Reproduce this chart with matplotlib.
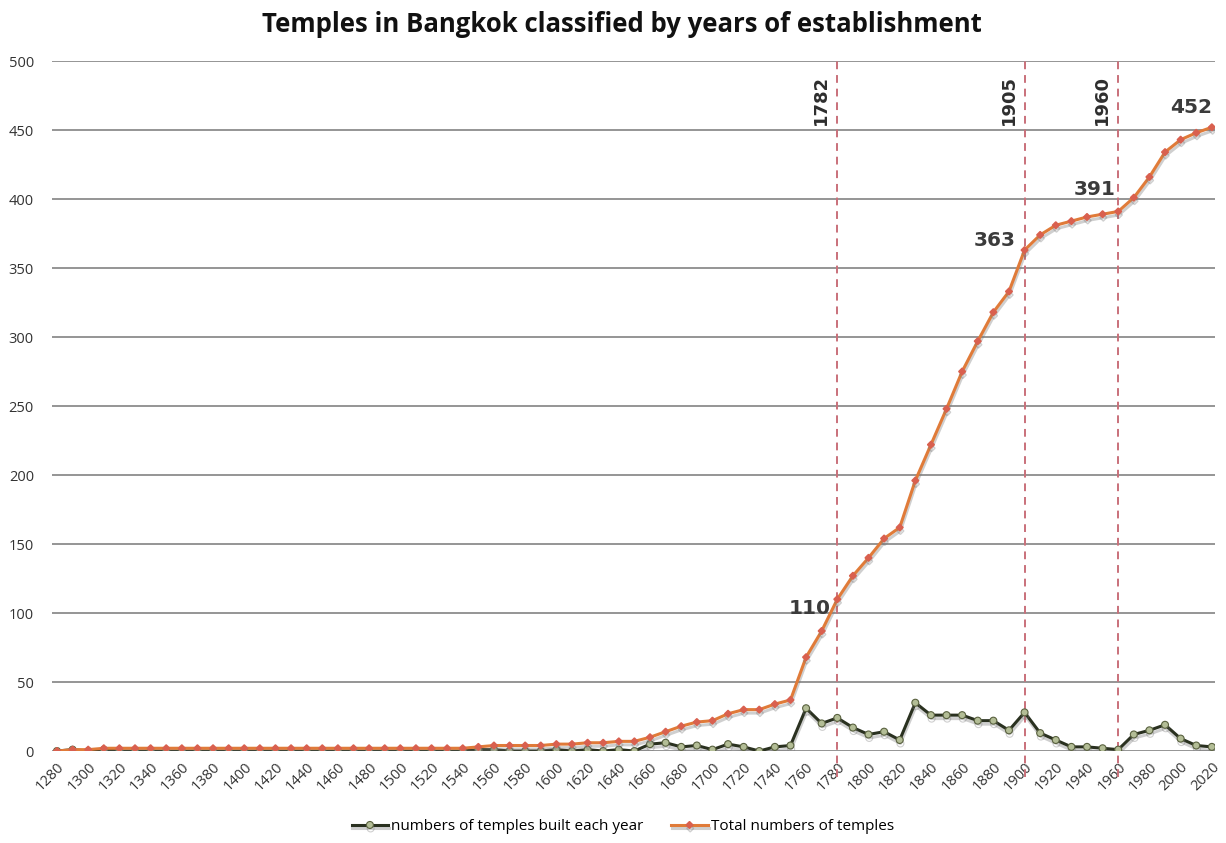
import numpy as np
import matplotlib
matplotlib.use("Agg")
import matplotlib.pyplot as plt
import matplotlib.patheffects as pe

plt.rcParams['font.family'] = ['Open Sans', 'DejaVu Sans']

# decades shown on the category axis
years = list(range(1280, 2021, 10))

# temples built in each decade
built = [0, 1, 0, 1, 0, 0, 0, 0, 0, 0,
         0, 0, 0, 0, 0, 0, 0, 0, 0, 0,
         0, 0, 0, 0, 0, 0, 0, 1, 1, 0,
         0, 0, 1, 0, 1, 0, 1, 0, 5, 6,
         3, 4, 1, 5, 3, 0, 3, 4, 31, 20,
         24, 17, 12, 14, 8, 35, 26, 26, 26, 22,
         22, 15, 28, 13, 8, 3, 3, 2, 1, 12,
         15, 19, 9, 4, 3]

# running total of temples
total = [0, 1, 1, 2, 2, 2, 2, 2, 2, 2,
         2, 2, 2, 2, 2, 2, 2, 2, 2, 2,
         2, 2, 2, 2, 2, 2, 2, 3, 4, 4,
         4, 4, 5, 5, 6, 6, 7, 7, 10, 14,
         18, 21, 22, 27, 30, 30, 34, 37, 68, 87,
         110, 127, 140, 154, 162, 196, 222, 248, 275, 297,
         318, 333, 363, 374, 381, 384, 387, 389, 391, 401,
         416, 434, 443, 448, 452]

# era markers: (category year on axis, label)
markers = [(1780, "1782"), (1900, "1905"), (1960, "1960")]
# callouts on the total line: (year, label, offset in points)
callouts = [(1780, "110", (-5, -6.5)), (1900, "363", (-6.5, 7)),
            (1960, "391", (-2, 16)), (2020, "452", (0.5, 14))]

x = np.arange(len(years))

fig = plt.figure(figsize=(12.26, 8.43), dpi=100)
ax = fig.add_axes([0.0424, 0.1091, 0.9486, 0.8185])

ax.set_xlim(-0.32, 74.2)
ax.set_ylim(0, 500)
ax.set_yticks(range(0, 501, 50))
ax.yaxis.grid(True, color='#8c8c8c', linewidth=1.3)
ax.set_axisbelow(True)
for s in ax.spines.values():
    s.set_visible(False)

shadow = [pe.SimpleLineShadow(offset=(0.5, -2.5), shadow_color='#777777', alpha=0.35), pe.Normal()]

ax.plot(x, built, color='#2a3120', linewidth=2.2, marker='o', markersize=5,
        markerfacecolor='#b3bd96', markeredgecolor='#59613f', markeredgewidth=0.8,
        label='numbers of temples built each year', path_effects=shadow, zorder=3)
ax.plot(x, total, color='#e07b39', linewidth=2.2, marker='D', markersize=3.5,
        markerfacecolor='#d9604f', markeredgecolor='#d9604f',
        label='Total numbers of temples', path_effects=shadow, zorder=4)

for yr, lab in markers:
    xi = years.index(yr)
    ax.axvline(xi, ymin=-0.038, ymax=1.0, color='#c9707a', linestyle=(0, (4, 3)),
               linewidth=1.4, clip_on=False, zorder=2)
    ax.text(xi - 0.45, 472, lab, rotation=90, ha='right', va='center',
            fontsize=13, fontweight='bold', color='#2e2e2e', family='DejaVu Sans')

for yr, lab, off in callouts:
    xi = years.index(yr)
    val = total[xi]
    ax.annotate(lab, (xi, val), xytext=off, textcoords='offset points',
                ha='right', va='center', fontsize=14.5, fontweight='bold',
                color='#3b3b3b', family='DejaVu Sans')

ax.set_xticks(x[::2])
ax.set_xticklabels([str(y) for y in years[::2]], rotation=45, ha='right', va='top',
                   rotation_mode='anchor', fontsize=10.5, color='#333333')
ax.tick_params(axis='x', length=0, pad=6)
ax.tick_params(axis='y', length=0, pad=13, labelsize=10.5, labelcolor='#333333')

fig.suptitle('Temples in Bangkok classified by years of establishment',
             x=0.507, y=0.987, fontsize=18.5, fontweight='bold', color='#111111')

fig.legend(loc='lower center', bbox_to_anchor=(0.508, -0.006), ncol=2, frameon=False,
           fontsize=11, handlelength=2.4, handletextpad=0.2, columnspacing=1.8)

fig.savefig('out.png', dpi=100)
